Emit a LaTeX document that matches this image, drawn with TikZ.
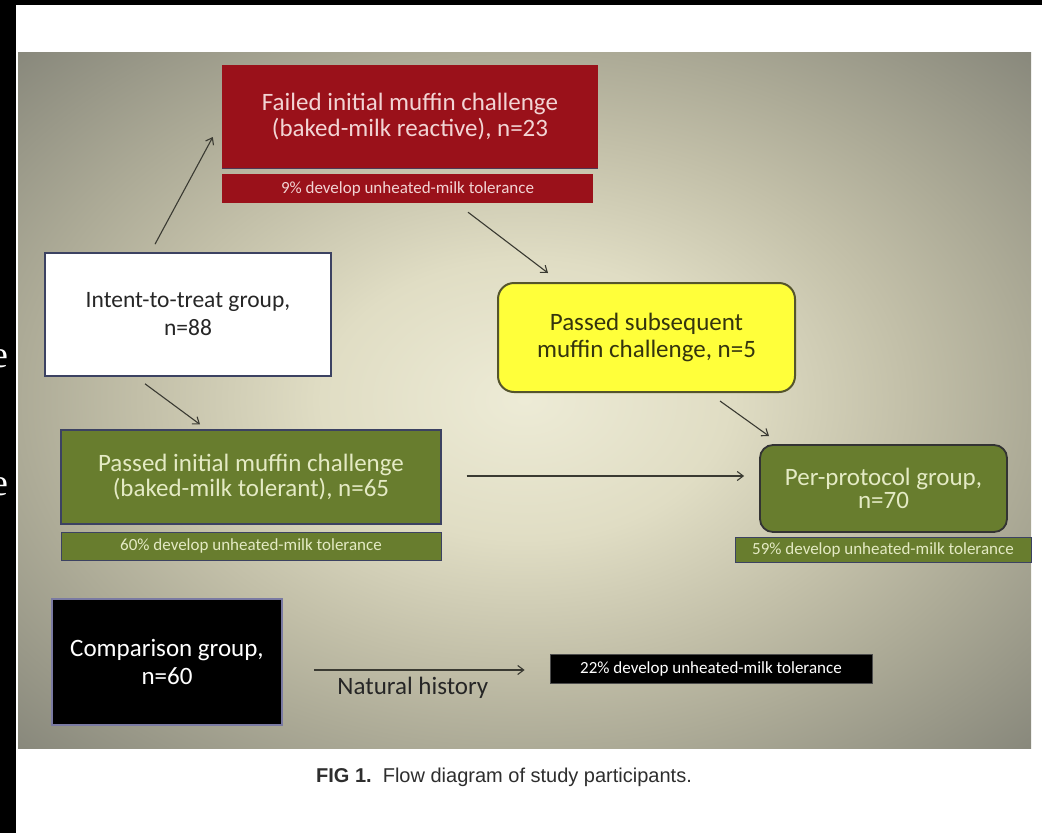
\documentclass[tikz,border=0pt]{standalone}
\usepackage{fontspec}
\setmainfont{Carlito}
\newfontfamily\capfont{Liberation Sans}
\newfontfamily\edgefont{Liberation Serif}
\usetikzlibrary{arrows.meta,calc}

% palette
\definecolor{glowA}{HTML}{EDEBD6}
\definecolor{glowB}{HTML}{E0DDC4}
\definecolor{glowC}{HTML}{C2BFA8}
\definecolor{glowD}{HTML}{ADAB97}
\definecolor{glowE}{HTML}{86867A}
\definecolor{mred}{HTML}{9A111A}
\definecolor{redtext}{HTML}{F2D4D4}
\definecolor{mgreen}{HTML}{687D2E}
\definecolor{greentext}{HTML}{E4EAC4}
\definecolor{myellow}{HTML}{FFFF3A}
\definecolor{yellowline}{HTML}{55552C}
\definecolor{yellowtext}{HTML}{34340E}
\definecolor{navyline}{HTML}{3C4262}
\definecolor{lilacline}{HTML}{7A7AA2}
\definecolor{arrowgray}{HTML}{3A3A32}
\definecolor{captext}{HTML}{2E2E2E}

\pgfdeclareradialshading{panelglow}{\pgfpoint{0bp}{0bp}}{%
  color(0bp)=(glowA); color(10bp)=(glowB); color(19bp)=(glowC);
  color(25bp)=(glowD); color(36bp)=(glowE); color(50bp)=(glowE)}

\tikzset{
  box/.style={rectangle, inner sep=0pt, align=center,
    font=\fontsize{25}{25.5}\selectfont},
  barbox/.style={rectangle, inner sep=0pt, align=center,
    font=\fontsize{17}{18}\selectfont},
  redbox/.style={box, fill=mred, text=redtext},
  redbar/.style={barbox, fill=mred, text=redtext},
  whitebox/.style={box, fill=white, draw=navyline, line width=1.6pt, text=black!85,
    font=\fontsize{23.5}{28}\selectfont},
  greenbox/.style={box, fill=mgreen, draw=navyline, line width=1.2pt, text=greentext},
  greenbar/.style={barbox, fill=mgreen, draw=navyline, line width=1pt, text=greentext},
  yellowbox/.style={box, rounded corners=16pt, fill=myellow, draw=yellowline,
    line width=2pt, text=yellowtext, font=\fontsize{25}{27}\selectfont},
  ppbox/.style={box, rounded corners=13pt, fill=mgreen, draw=black!80,
    line width=1.8pt, text=greentext, font=\fontsize{25}{23}\selectfont},
  blackbox/.style={box, fill=black, draw=lilacline, line width=1.6pt, text=white!92,
    font=\fontsize{25}{28}\selectfont},
  blackbar/.style={barbox, fill=black, draw=black!70, line width=0.8pt, text=white!90},
  flow/.style={draw=arrowgray, line width=1.1pt,
    -{Straight Barb[length=6pt,width=9pt]}},
}

\begin{document}
\begin{tikzpicture}[x=1pt, y=-1pt]
  \useasboundingbox (0,0) rectangle (1042,833);
  \fill[white] (0,0) rectangle (1042,833);

  % black frame pieces
  \fill[black] (0,0) rectangle (1042,5);
  \fill[black] (0,0) rectangle (16,833);
  \node[anchor=base, inner sep=0pt, text=white,
        font=\edgefont\fontsize{38}{40}\selectfont] (edgeA) at (0,367) {e};
  \node[anchor=base, inner sep=0pt, text=white,
        font=\edgefont\fontsize{38}{40}\selectfont] (edgeB) at (0,495) {e};

  % slide background
  \shade[shading=panelglow] (18,52) rectangle (1031,748);

  % boxes
  \node[redbox, minimum width=376pt, minimum height=103pt] (failed) at (410,116.5)
    {Failed initial muffin challenge\\(baked-milk reactive), n=23};
  \draw[navyline!80!mred, line width=1.4pt] (failed.south west) -- (failed.south east);
  \node[redbar, minimum width=371pt, minimum height=29pt] (failedbar) at (407.5,188.5)
    {9\% develop unheated-milk tolerance};

  \node[whitebox, minimum width=286pt, minimum height=123pt] (itt) at (188,314.5)
    {Intent-to-treat group,\\n=88};

  \node[greenbox, minimum width=380pt, minimum height=94pt] (passed) at (251,477)
    {Passed initial muffin challenge\\(baked-milk tolerant), n=65};
  \node[greenbar, minimum width=380pt, minimum height=28pt] (passedbar) at (251,546)
    {60\% develop unheated-milk tolerance};

  \node[yellowbox, minimum width=297pt, minimum height=109pt] (subseq) at (646.5,337.5)
    {Passed subsequent\\muffin challenge, n=5};

  \node[ppbox, minimum width=247pt, minimum height=87pt] (pp) at (883.5,488.5)
    {Per-protocol group,\\n=70};
  \node[greenbar, minimum width=296pt, minimum height=25pt] (ppbar) at (883,549.5)
    {59\% develop unheated-milk tolerance};

  \node[blackbox, minimum width=230pt, minimum height=126pt] (comp) at (167,662)
    {Comparison group,\\n=60};
  \node[blackbar, minimum width=322pt, minimum height=29pt] (compbar) at (711,668.5)
    {22\% develop unheated-milk tolerance};

  % connectors
  \draw[flow] ([shift={(-33,-8)}]itt.north) -- ([shift={(-9,20.5)}]failed.west);
  \draw[flow] ([shift={(-43,7)}]itt.south) -- ([shift={(-51,-5)}]passed.north);
  \draw[flow] ([shift={(60.5,9)}]failedbar.south) -- ([shift={(-98.5,-9)}]subseq.north);
  \draw[flow] ([shift={(73.5,8)}]subseq.south) -- ([shift={(-114.5,-8)}]pp.north);
  \draw[flow] ([shift={(25,-1)}]passed.east) -- ([shift={(-15,-12.5)}]pp.west);
  \draw[flow] ([shift={(31,8)}]comp.east) -- ([shift={(-25,1.5)}]compbar.west)
    node[pos=0.47, below=7pt, inner sep=0pt, text=black!85,
         font=\fontsize{25}{26}\selectfont] (nathist) {Natural history};

  % caption
  \node[anchor=base, inner sep=0pt, text=captext,
        font=\capfont\fontsize{20}{22}\selectfont] (caption) at (504,782)
    {\textbf{FIG 1.}\ \ Flow diagram of study participants.};
\end{tikzpicture}
\end{document}
